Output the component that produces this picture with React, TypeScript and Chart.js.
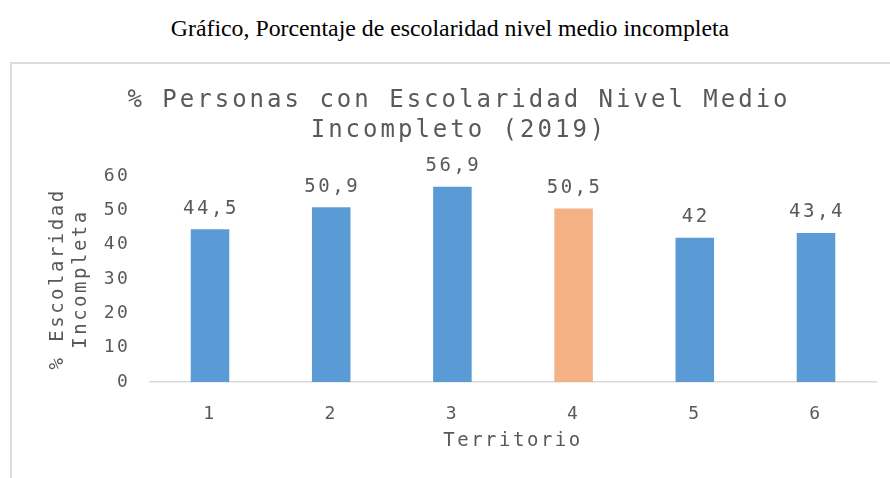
import React, { useEffect, useRef } from "react";
import { Chart, registerables } from "chart.js";

Chart.register(...registerables);

const categories = ["1", "2", "3", "4", "5", "6"];
const values = [44.5, 50.9, 56.9, 50.5, 42, 43.4];
const valueLabels = ["44,5", "50,9", "56,9", "50,5", "42", "43,4"];
const yTicks = [0, 10, 20, 30, 40, 50, 60];
const titleLines = ["% Personas con Escolaridad Nivel Medio", "Incompleto (2019)"];
const yTitle = ["% Escolaridad", "Incompleta"];
const xTitle = "Territorio";
const header = "Gráfico, Porcentaje de escolaridad nivel medio incompleta";

const BLUE = "#5B9BD5";
const ORANGE = "#F4B183";
const TEXT = "#595959";
const MONO = "'DejaVu Sans Mono', monospace";

const spacingPlugin = {
  id: "spacing",
  beforeInit(chart: any) {
    chart.ctx.letterSpacing = "2.5px";
  },
  beforeUpdate(chart: any) {
    chart.ctx.letterSpacing = "2.5px";
  },
  beforeDraw(chart: any) {
    chart.ctx.letterSpacing = "2.5px";
  },
};

const labelsPlugin = {
  id: "customText",
  afterDraw(chart: any) {
    const ctx = chart.ctx;
    ctx.save();
    // Title
    ctx.letterSpacing = "3px";
    ctx.font = `24px ${MONO}`;
    ctx.fillStyle = TEXT;
    ctx.textAlign = "center";
    ctx.textBaseline = "alphabetic";
    ctx.fillText(titleLines[0], 459, 107);
    ctx.fillText(titleLines[1], 459, 137);
    // Value labels
    ctx.letterSpacing = "2.5px";
    ctx.font = `19px ${MONO}`;
    const meta = chart.getDatasetMeta(0);
    meta.data.forEach((bar: any, i: number) => {
      ctx.fillText(valueLabels[i], bar.x + 1, bar.y - 15.5);
    });
    ctx.restore();
  },
};

export default function App() {
  const ref = useRef<HTMLCanvasElement | null>(null);

  useEffect(() => {
    if (!ref.current) return;
    const chart = new Chart(ref.current, {
      type: "bar",
      data: {
        labels: categories,
        datasets: [
          {
            data: values,
            backgroundColor: values.map((_, i) => (i === 3 ? ORANGE : BLUE)),
            barPercentage: 0.318,
            categoryPercentage: 1,
          },
        ],
      },
      options: {
        animation: false,
        responsive: false,
        maintainAspectRatio: false,
        layout: { padding: { top: 176, right: 13.4, bottom: 0, left: 0 } },
        plugins: {
          legend: { display: false },
          title: { display: false },
          tooltip: { enabled: false },
        },
        scales: {
          x: {
            grid: { display: false, drawTicks: false },
            border: { display: true, color: "#d9d9d9", width: 1.5 },
            ticks: {
              color: TEXT,
              font: { family: MONO, size: 18 },
              padding: 22,
            },
            title: {
              display: true,
              text: xTitle,
              color: TEXT,
              font: { family: MONO, size: 19 },
              padding: { top: 0, bottom: 25.6 },
            },
            afterFit(scale: any) {
              scale.height = 96;
            },
          },
          y: {
            min: 0,
            max: 60,
            grid: { display: false, drawTicks: false },
            border: { display: false },
            afterBuildTicks(scale: any) {
              scale.ticks = yTicks.map((v) => ({ value: v }));
            },
            ticks: {
              color: TEXT,
              font: { family: MONO, size: 18 },
              padding: 19,
            },
            title: {
              display: true,
              text: yTitle,
              color: TEXT,
              font: { family: MONO, size: 19 },
              padding: { top: 46.6, bottom: 0 },
            },
            afterFit(scale: any) {
              scale.width = 149.4;
            },
          },
        },
      },
      plugins: [spacingPlugin, labelsPlugin],
    });
    return () => chart.destroy();
  }, []);

  return (
    <div
      style={{
        position: "fixed",
        left: 0,
        top: 0,
        width: 890,
        height: 478,
        overflow: "hidden",
        background: "#fff",
      }}
    >
      <div
        style={{
          position: "absolute",
          left: 0,
          top: 14,
          width: 900,
          textAlign: "center",
          fontFamily: "'Liberation Serif', 'Times New Roman', serif",
          fontSize: 23.8,
          color: "#000",
          lineHeight: "28px",
          whiteSpace: "nowrap",
        }}
      >
        {header}
      </div>
      <div
        style={{
          position: "absolute",
          left: 10,
          top: 62,
          width: 900,
          height: 430,
          borderTop: "2px solid #dcdcdc",
          borderLeft: "2px solid #dcdcdc",
          boxSizing: "border-box",
        }}
      />
      <canvas
        ref={ref}
        width={890}
        height={478}
        style={{ position: "absolute", left: 0, top: 0, width: 890, height: 478 }}
      />
    </div>
  );
}
